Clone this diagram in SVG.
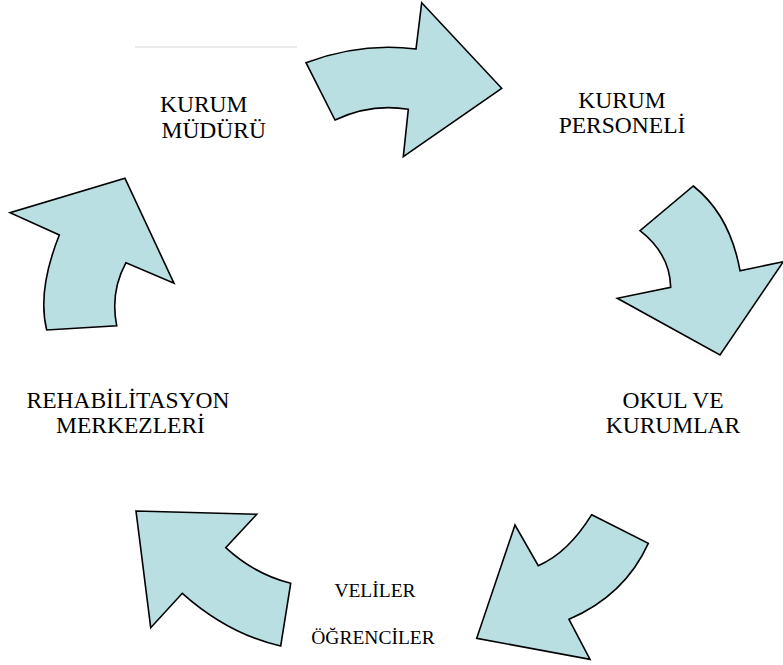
<svg xmlns="http://www.w3.org/2000/svg" width="783" height="665" viewBox="0 0 783 665">
<style>
.arrow{fill:#BADFE3;stroke:#000;stroke-width:1.6;stroke-linejoin:miter}
.lbl{font-family:"Liberation Serif","Times New Roman",serif;font-size:23.5px;fill:#000}
.sm{font-size:19.5px}
</style>
<rect width="783" height="665" fill="#fff"/>
<line x1="135" y1="47" x2="297" y2="47" stroke="#d4d4d4" stroke-width="1"/>
<g id="connectors">
<path id="arrow1" class="arrow" d="M306,62.7 Q361,42 416,49 L421.7,2.7 L501.7,88.3 L403.3,156.7 L408.3,109.3 Q371,103 335,120 Z"/>
<path id="arrow2" class="arrow" d="M693.3,186 Q730,215 740,270.7 L783.3,261.7 L720,355 L617.3,298.3 L670.7,287.3 Q670,254 640,230.7 Z"/>
<path id="arrow3" class="arrow" d="M591.7,514.7 L648.3,543.3 Q625,595 569,619.3 L590,659.3 L476.7,638.3 L515,525 L538.3,565.7 Q568,553 591.7,514.7 Z"/>
<path id="arrow4" class="arrow" d="M136,511 L256.7,514.3 L225.7,547.7 Q255,574.5 290.7,583.3 L280.7,646 Q228,634 182.3,593.3 L150.7,627.7 Z"/>
<path id="arrow5" class="arrow" d="M125,178.3 L174,283.3 L126,262.7 Q110,292 116.7,325.7 L46.7,330 Q37,291 59.3,235 L10,212.7 Z"/>
</g>
<g id="node-kurum-muduru">
<text class="lbl" x="160" y="111.7">KURUM</text>
<text class="lbl" x="161.5" y="138.3">MÜDÜRÜ</text>
</g>
<g id="node-kurum-personeli">
<text class="lbl" x="622" y="108.3" text-anchor="middle">KURUM</text>
<text class="lbl" x="622" y="133.3" text-anchor="middle">PERSONELİ</text>
</g>
<g id="node-okul-kurumlar">
<text class="lbl" x="673" y="408.3" text-anchor="middle">OKUL VE</text>
<text class="lbl" x="673" y="433.3" text-anchor="middle">KURUMLAR</text>
</g>
<g id="node-veliler">
<text class="lbl sm" x="375" y="596.7" text-anchor="middle">VELİLER</text>
<text class="lbl sm" x="373" y="644" text-anchor="middle">ÖĞRENCİLER</text>
</g>
<g id="node-rehabilitasyon">
<text class="lbl" x="128" y="408.3" text-anchor="middle">REHABİLİTASYON</text>
<text class="lbl" x="130.5" y="433.3" text-anchor="middle">MERKEZLERİ</text>
</g>
</svg>
